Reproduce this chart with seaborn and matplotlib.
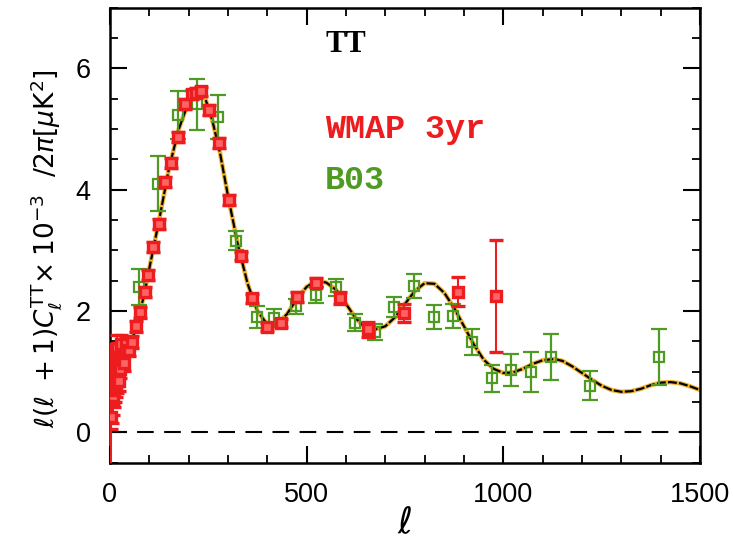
import numpy as np
import pandas as pd
import matplotlib
matplotlib.use("Agg")
import matplotlib.pyplot as plt
import seaborn as sns
from matplotlib.ticker import MultipleLocator

# ---------------- data ----------------
theory_l = [2, 5, 10, 20, 30, 40, 50, 60, 75, 88, 100, 125, 150, 175, 200, 220, 240,
            260, 280, 300, 325, 350, 375, 400, 420, 450, 475, 500, 525, 550, 575,
            600, 625, 650, 670, 700, 725, 750, 775, 800, 825, 850, 875, 900, 925,
            950, 975, 1000, 1025, 1050, 1075, 1100, 1130, 1150, 1175, 1200, 1225,
            1250, 1275, 1300, 1325, 1350, 1375, 1400, 1425, 1450, 1475, 1500]
theory_cl = [1.10, 1.00, 0.95, 0.98, 1.05, 1.20, 1.40, 1.60, 1.95, 2.30, 2.70, 3.50,
             4.35, 5.00, 5.45, 5.62, 5.55, 5.15, 4.60, 3.90, 3.10, 2.45, 2.00, 1.78,
             1.76, 1.95, 2.20, 2.40, 2.50, 2.47, 2.35, 2.12, 1.88, 1.72, 1.69, 1.75,
             1.90, 2.12, 2.33, 2.46, 2.45, 2.30, 2.05, 1.75, 1.45, 1.20, 1.05, 0.98,
             0.99, 1.05, 1.13, 1.19, 1.21, 1.18, 1.09, 0.98, 0.87, 0.77, 0.70, 0.67,
             0.68, 0.72, 0.78, 0.82, 0.83, 0.81, 0.76, 0.70]

wmap_l = [2, 3, 4, 5, 6, 7, 8, 9, 10, 11, 12, 13, 14, 15, 16, 17, 18, 19, 20, 22,
          24, 26, 28, 30, 36, 42, 48, 56, 66, 76, 88, 97, 110, 124, 140, 154, 172,
          190, 208, 220, 231, 251, 277, 303, 332, 361, 399, 434, 475, 525, 586,
          656, 748, 886, 982]
wmap_cl = [0.25, 0.75, 0.70, 0.95, 0.85, 0.80, 0.60, 0.90, 0.70, 0.95, 0.75, 1.05,
           0.90, 0.80, 1.10, 0.85, 1.40, 0.95, 1.15, 0.85, 1.25, 1.05, 1.45, 1.20,
           1.15, 1.45, 1.36, 1.49, 1.75, 1.98, 2.31, 2.59, 3.06, 3.44, 4.13, 4.44,
           4.87, 5.41, 5.57, 5.60, 5.62, 5.31, 4.77, 3.83, 2.91, 2.21, 1.74, 1.80,
           2.23, 2.47, 2.21, 1.70, 1.97, 2.32, 2.25]
wmap_err = [0.90, 0.70, 0.55, 0.45, 0.40, 0.35, 0.32, 0.30, 0.28, 0.26, 0.25, 0.24,
            0.23, 0.22, 0.21, 0.20, 0.20, 0.19, 0.18, 0.17, 0.16, 0.15, 0.15, 0.14,
            0.13, 0.12, 0.10, 0.10, 0.09, 0.09, 0.08, 0.08, 0.08, 0.08, 0.08, 0.08,
            0.08, 0.08, 0.08, 0.08, 0.08, 0.08, 0.08, 0.08, 0.07, 0.07, 0.07, 0.07,
            0.08, 0.08, 0.10, 0.12, 0.15, 0.24, 0.92]

b03_l = [73, 122, 173, 221, 274, 320, 374, 418, 472, 523, 574, 622, 673, 721, 772,
         824, 871, 921, 970, 1020, 1071, 1122, 1220, 1396]
b03_cl = [2.40, 4.10, 5.23, 5.41, 5.20, 3.16, 1.90, 1.88, 2.08, 2.26, 2.39, 1.81,
          1.66, 2.07, 2.41, 1.90, 1.92, 1.49, 0.89, 1.03, 1.00, 1.24, 0.77, 1.25]
b03_err = [0.30, 0.45, 0.40, 0.42, 0.36, 0.16, 0.18, 0.15, 0.12, 0.13, 0.14, 0.14,
           0.13, 0.17, 0.20, 0.20, 0.20, 0.22, 0.22, 0.27, 0.33, 0.38, 0.24, 0.46]

RED = "#ec1c1f"
GREEN = "#4f9a22"

theory = pd.DataFrame({"l": theory_l, "cl": theory_cl})

# ---------------- figure ----------------
sns.set_style("ticks")
plt.rcParams["font.family"] = ["Liberation Sans", "DejaVu Sans"]
plt.rcParams["mathtext.fontset"] = "dejavusans"
plt.rcParams["text.color"] = "black"
plt.rcParams["axes.labelcolor"] = "black"
plt.rcParams["xtick.color"] = "black"
plt.rcParams["ytick.color"] = "black"

fig = plt.figure(figsize=(7.33, 5.49), dpi=100)
ax = fig.add_axes([0.150, 0.157, 0.805, 0.829])

ax.axhline(0, color="black", lw=1.5, ls=(0, (8, 5)), zorder=1)

sns.lineplot(data=theory, x="l", y="cl", ax=ax, color="#f0b030", lw=3.2,
             sort=False, zorder=2)
sns.lineplot(data=theory, x="l", y="cl", ax=ax, color="black", lw=1.6,
             sort=False, zorder=3)
ax.lines[-1].set_linestyle((0, (4, 1)))

ax.errorbar(wmap_l, wmap_cl, yerr=wmap_err, fmt="s", ms=7.5, mfc="#ff6464",
            mec=RED, mew=2.4, ecolor=RED, elinewidth=1.5, capsize=5,
            capthick=1.5, zorder=5)
ax.errorbar(b03_l, b03_cl, yerr=b03_err, fmt="s", ms=7.5, mfc="none",
            mec=GREEN, mew=1.6, ecolor=GREEN, elinewidth=1.6, capsize=5.5,
            capthick=1.6, zorder=4)

ax.set_xlim(0, 1500)
ax.set_ylim(-0.5, 7)
ax.xaxis.set_major_locator(MultipleLocator(500))
ax.xaxis.set_minor_locator(MultipleLocator(100))
ax.yaxis.set_major_locator(MultipleLocator(2))
ax.yaxis.set_minor_locator(MultipleLocator(0.5))
ax.tick_params(which="both", direction="in", top=True, right=True,
               color="black", labelcolor="black")
ax.tick_params(which="major", length=12, width=1.5, labelsize=19.5, pad=14)
ax.tick_params(which="minor", length=6, width=1.3)
for s in ax.spines.values():
    s.set_linewidth(1.8)
    s.set_color("black")

ax.set_xlabel(r"$\ell$", fontsize=26, color="black")
ax.xaxis.set_label_coords(0.5, -0.095)
ax.set_ylabel(r"$\ell(\ell\ +1)C_\ell^{\rm TT}\!\times10^{-3}\ \ /2\pi[\mu{\rm K}^2]$",
              fontsize=19, color="black")
ax.yaxis.set_label_coords(-0.078, 0.47)

ax.text(547, 6.4, "TT", fontsize=22, fontweight="bold", family="Liberation Serif",
        va="center", ha="left", color="black")
ax.text(547, 5.0, "WMAP 3yr", fontsize=24, fontweight="bold",
        family="Liberation Mono", va="center", ha="left", color=RED)
ax.text(547, 4.15, "B03", fontsize=24, fontweight="bold",
        family="Liberation Mono", va="center", ha="left", color=GREEN)

fig.savefig("out.png", dpi=100)
